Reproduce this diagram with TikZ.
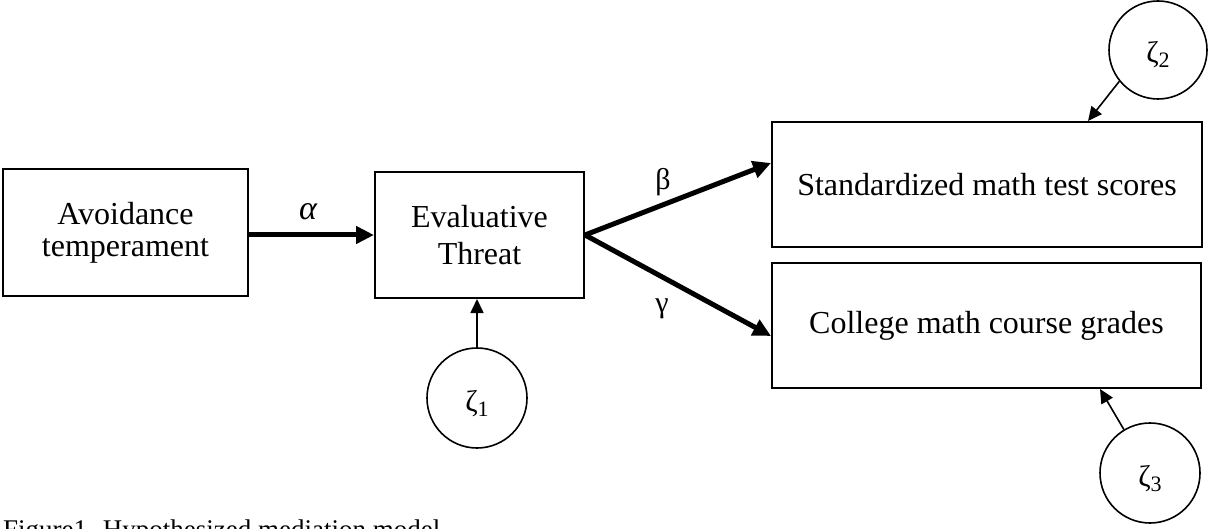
\documentclass[tikz,border=0pt]{standalone}
\usepackage{fontspec}
\setmainfont{Liberation Serif}
\usetikzlibrary{arrows.meta}
\tikzset{
  varbox/.style={draw, line width=2pt, rectangle, align=center, inner sep=0pt,
    font=\fontsize{32}{37}\selectfont},
  errcirc/.style={draw, line width=1.6pt, circle, minimum size=100pt, inner sep=0pt,
    text height=30pt, text depth=4pt, font=\fontsize{30}{30}\selectfont},
  path/.style={line width=5pt, -{Triangle[length=18pt,width=17pt]}},
  errpath/.style={line width=1.6pt, -{Triangle[length=14pt,width=13pt]}},
  coef/.style={inner sep=0pt, font=\fontsize{30}{30}\selectfont}
}
\newcommand{\zsub}[1]{ζ\raisebox{-5pt}{\fontsize{22}{22}\selectfont #1}}
\begin{document}
\begin{tikzpicture}[x=1pt,y=-1pt]
\useasboundingbox (0,0) rectangle (1209,529);

% observed variables
\node[varbox, minimum width=245pt, minimum height=127pt] (avoid) at (125.5,232.5)
  {Avoidance\\[-5pt]temperament};
\node[varbox, minimum width=209pt, minimum height=126pt] (threat) at (479.5,235)
  {Evaluative\\Threat};
\node[varbox, minimum width=430pt, minimum height=125pt] (std) at (987,184.5)
  {Standardized math test scores};
\node[varbox, minimum width=429pt, minimum height=125pt] (col) at (986.5,325.5)
  {College math course grades};

% disturbances
\node[errcirc] (z1) at (477,398) {\zsub{1}};
\node[errcirc, minimum size=98pt] (z2) at (1158,50) {\zsub{2}};
\node[errcirc] (z3) at (1150,473) {\zsub{3}};

% structural paths
\draw[path] (avoid.east |- threat.west) -- (threat.west);
\draw[path] (threat.east) -- ([yshift=21.5pt]std.west);
\draw[path] (threat.east) -- ([yshift=-10.5pt]col.west);

% coefficient labels
\node[coef, font=\fontsize{34}{34}\selectfont\itshape] (la) at (308,212) {α};
\node[coef] (lb) at (663,182) {β};
\node[coef] (lg) at (662,309) {γ};

% disturbance paths
\draw[errpath] (z1.north) -- (z1.north |- threat.south);
\draw[errpath] (z2.219) -- ([xshift=101pt]std.north);
\draw[errpath] (z3.121) -- ([xshift=113.5pt]col.south);

% caption
\node[anchor=base west, inner sep=0pt, font=\fontsize{27}{27}\selectfont] (cap) at (3,538)
  {Figure1. Hypothesized mediation model};
\end{tikzpicture}
\end{document}
